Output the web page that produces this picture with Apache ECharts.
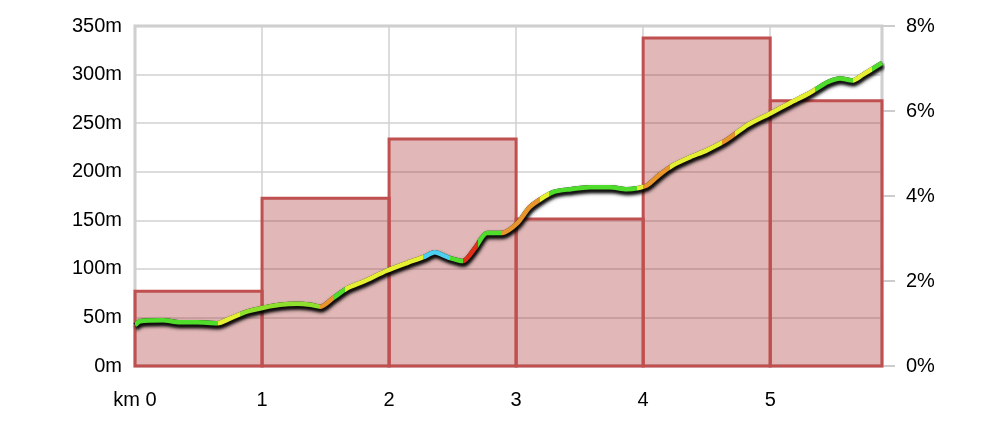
<!DOCTYPE html>
<html>
<head>
<meta charset="utf-8">
<script src="https://cdn.jsdelivr.net/npm/echarts@6/dist/echarts.min.js"></script>
<style>html,body{margin:0;padding:0;background:#fff}#c{width:988px;height:438px}</style>
</head>
<body>
<div id="c"></div>
<script>
// Elevation profile (km, m)
var distKm = [0.0,0.04,0.22,0.35,0.49,0.65,0.75,0.88,1.01,1.14,1.28,1.38,1.46,1.56,1.67,1.80,1.98,2.14,2.27,2.36,2.46,2.58,2.68,2.77,2.89,3.01,3.11,3.29,3.43,3.58,3.74,3.87,3.95,4.03,4.13,4.24,4.37,4.50,4.66,4.82,5.00,5.16,5.31,5.45,5.55,5.65,5.73,5.88];
var elevM = [42,46,47,45,45,44,49,56,60,63,64,63,61,70,80,87,98,106,112,117,112,108,122,137,137,147,164,179,182,184,184,182,183,186,197,207,215,222,233,248,260,271,281,292,296,294,300,312];
// Gradient per km section (%)
var barStart = [0,1,2,3,4,5];
var barEnd = [1,2,3,4,5,5.88];
var barGrade = [1.76,3.95,5.34,3.46,7.72,6.24];
// Line colour sections by grade class
var segFrom = [0,0.65,0.83,1.46,1.56,1.65,2.27,2.48,2.58,2.70,2.89,3.19,3.26,3.95,4.00,4.21,4.62,4.72,5.35,5.65,5.80];
var segColor = ['#4fdc2a','#e6f032','#8ee02c','#e8962c','#4fdc2a','#e6f032','#4cd0f0','#4fdc2a','#e0301a','#4fdc2a','#e8962c','#e6f032','#4fdc2a','#e6f032','#e8962c','#e6f032','#e8962c','#e6f032','#4fdc2a','#e6f032','#4fdc2a'];
var yLeftTicks = {min:0,max:350,interval:50};
var yRightTicks = {min:0,max:8,interval:2};

var lineData = distKm.map(function(d,i){return [d, elevM[i]];});
var barData = barStart.map(function(s,i){return [s, barEnd[i], barGrade[i]];});
var pieces = segFrom.map(function(s,i){
  var p = {gte:s, color:segColor[i]};
  if (i < segFrom.length-1) p.lt = segFrom[i+1]; else p.lte = 100;
  return p;
});

var font = 'Liberation Sans, Arial, Helvetica, sans-serif';
var chart = echarts.init(document.getElementById('c'));
chart.setOption({
  animation:false,
  grid:{left:135,right:106,top:26,bottom:72,show:true,borderColor:'#cccccc',borderWidth:3,backgroundColor:'transparent'},
  xAxis:{type:'value',min:0,max:5.88,interval:1,
    axisLine:{show:false},axisTick:{show:false},
    splitLine:{show:true,lineStyle:{color:'#d0d0d0',width:1.5}},
    axisLabel:{showMaxLabel:false,margin:24,color:'#000',fontSize:20,fontFamily:font,
      formatter:function(v){return v===0?'km 0':String(v);}}},
  yAxis:[
    {type:'value',min:yLeftTicks.min,max:yLeftTicks.max,interval:yLeftTicks.interval,
      axisLine:{show:false},axisTick:{show:false},
      splitLine:{show:true,lineStyle:{color:'#d0d0d0',width:1.5}},
      axisLabel:{margin:13,color:'#000',fontSize:20,fontFamily:font,formatter:'{value}m'}},
    {type:'value',position:'right',min:yRightTicks.min,max:yRightTicks.max,interval:yRightTicks.interval,
      axisLine:{show:false},axisTick:{show:true,length:13,lineStyle:{color:'#cccccc',width:2}},
      splitLine:{show:false},
      axisLabel:{margin:24,color:'#000',fontSize:20,fontFamily:font,formatter:'{value}%'}}
  ],
  visualMap:{show:false,type:'piecewise',dimension:0,seriesIndex:1,pieces:pieces},
  series:[
    {type:'custom',yAxisIndex:1,data:barData,z:2,
      renderItem:function(params,api){
        var p0 = api.coord([api.value(0), api.value(2)]);
        var p1 = api.coord([api.value(1), 0]);
        return {type:'rect',shape:{x:p0[0],y:p0[1],width:p1[0]-p0[0],height:p1[1]-p0[1]},
          style:{fill:'rgba(165,35,35,0.33)',stroke:'#c05050',lineWidth:3}};
      }},
    {type:'line',yAxisIndex:0,data:lineData,showSymbol:false,smooth:0.25,z:5,
      lineStyle:{width:4.5,shadowColor:'rgba(0,0,0,0.9)',shadowBlur:4,shadowOffsetX:1,shadowOffsetY:3}},
    {type:'line',yAxisIndex:0,data:lineData,showSymbol:false,smooth:0.25,z:4,silent:true,
      itemStyle:{color:'#222'},
      lineStyle:{width:4.5,color:'#222',shadowColor:'rgba(0,0,0,0.9)',shadowBlur:3,shadowOffsetX:1,shadowOffsetY:3}}
  ]
});
</script>
</body>
</html>
